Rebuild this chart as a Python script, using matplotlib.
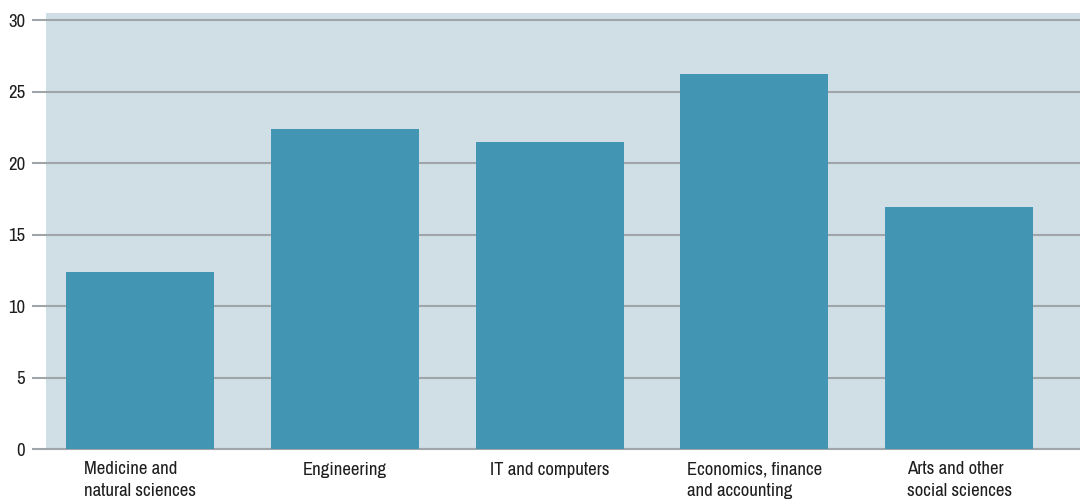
import numpy as np
import matplotlib.pyplot as plt
from matplotlib import font_manager

categories = ['Medicine and\nnatural sciences', 'Engineering', 'IT and computers',
              'Economics, finance\nand accounting', 'Arts and other\nsocial sciences']
values = [12.4, 22.4, 21.5, 26.2, 16.9]
yticks = [0, 5, 10, 15, 20, 25, 30]

names = {f.name for f in font_manager.fontManager.ttflist}
fam = [f for f in ['Archivo Narrow', 'Roboto Condensed'] if f in names] + ['DejaVu Sans']
plt.rcParams['font.family'] = fam

fig = plt.figure(figsize=(10.8, 5.04), dpi=100)
ax = fig.add_axes([46 / 1080, 55 / 504, 1 - 46 / 1080, (449 - 13) / 504])
ax.set_facecolor('#d0dfe6')

x = np.arange(len(categories))
ax.bar(x, values, width=0.723, color='#4395b4', zorder=3)

ax.set_ylim(0, 30.5)
ax.set_xlim(-0.46, 4.59)
ax.set_yticks(yticks)
ax.yaxis.grid(True, color='#a0a5aa', linewidth=1.5, zorder=1)
ax.set_axisbelow(True)

ax.set_xticks(x)
ax.set_xticklabels(categories, multialignment='left', fontsize=13.5, color='#1e1e1e',
                   linespacing=1.45)
ax.tick_params(axis='x', length=0, pad=9)
ax.tick_params(axis='y', length=10, width=1.5, color='#a0a5aa', labelsize=13.5,
               labelcolor='#1e1e1e', pad=5)

for s in ax.spines.values():
    s.set_visible(False)
ax.spines['bottom'].set_visible(True)
ax.spines['bottom'].set_color('#a0a5aa')
ax.spines['bottom'].set_linewidth(1.5)

fig.savefig('out.png', dpi=100)
